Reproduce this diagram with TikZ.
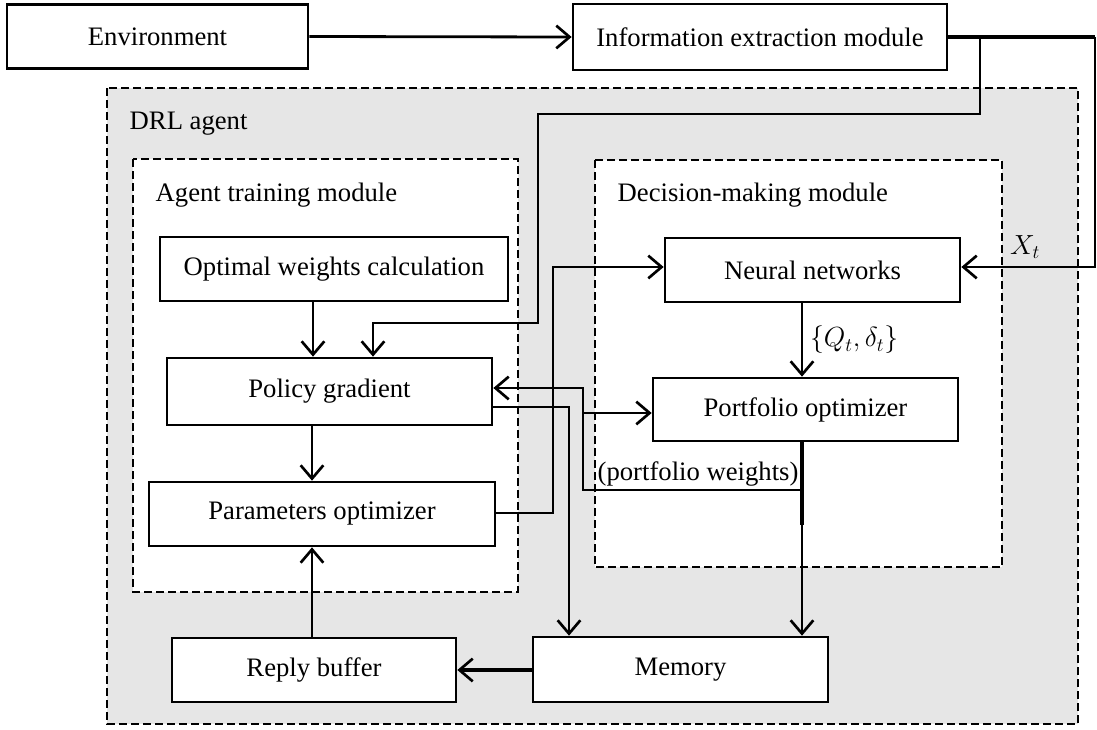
\documentclass[tikz,border=0pt]{standalone}
\usepackage{fontspec}
\setmainfont{Liberation Serif}
\usetikzlibrary{arrows.meta,calc}
\definecolor{agentgray}{RGB}{230,230,230}
\begin{document}
\begin{tikzpicture}[x=0.75pt,y=-0.75pt,
  font=\fontsize{20}{24}\selectfont,
  box/.style={draw,line width=2pt,fill=white,inner sep=0pt},
  modbox/.style={draw,line width=1.8pt,dash pattern=on 6pt off 3pt},
  arr/.style={-{Straight Barb[length=10pt,width=17pt,line width=2pt]}},
  medline/.style={line width=2.1pt},
  boldline/.style={line width=3pt},
  thinline/.style={line width=1.5pt},
]
\useasboundingbox (0,0) rectangle (1097,729);
% modules
\draw[modbox,fill=agentgray] (107,88) rectangle (1078,724);
\draw[modbox,fill=white] (133,159) rectangle (518,592);
\draw[modbox,fill=white] (595,160) rectangle (1002,567);
\node[anchor=west] (drl) at (125,124) {DRL agent};
\node[anchor=west] (atm) at (151,195) {Agent training module};
\node[anchor=west] (dmm) at (613,195) {Decision-making module};
% boxes
\node[box,minimum width=301*0.75pt,minimum height=64*0.75pt] (env) at (157.5,36.5) {Environment};
\node[box,minimum width=374*0.75pt,minimum height=66*0.75pt] (ie) at (760,37) {Information extraction module};
\node[box,minimum width=348*0.75pt,minimum height=64*0.75pt] (owc) at (334,269) {Optimal weights calculation};
\node[box,minimum width=325*0.75pt,minimum height=67*0.75pt] (pg) at (329.5,391.5) {Policy gradient};
\node[box,minimum width=346*0.75pt,minimum height=64*0.75pt] (par) at (322,514) {Parameters optimizer};
\node[box,minimum width=295*0.75pt,minimum height=64*0.75pt] (nn) at (812.5,270) {Neural networks};
\node[box,minimum width=305*0.75pt,minimum height=63*0.75pt] (pfo) at (805.5,409.5) {Portfolio optimizer};
\node[box,minimum width=295*0.75pt,minimum height=65*0.75pt] (mem) at (680.5,669.5) {Memory};
\node[box,minimum width=284*0.75pt,minimum height=64*0.75pt] (rb) at (314,670) {Reply buffer};
% helper coordinates
\coordinate (c1) at (1095,37);
\coordinate (c2) at (1095,267);
\coordinate (b1) at (980,37);
\coordinate (b2) at (980,114);
\coordinate (b3) at (538,114);
\coordinate (b4) at (538,323);
\coordinate (b5) at (373,323);
\coordinate (x312) at (312,0);
\coordinate (x313) at (313,0);
\coordinate (p1) at (553,513);
\coordinate (p2) at (553,267);
\coordinate (w0) at (802,525);
\coordinate (w1) at (802,490);
\coordinate (w2) at (583,490);
\coordinate (w3) at (583,388);
\coordinate (w4) at (583,413);
\coordinate (m1) at (569,407);
\coordinate (y670) at (0,670);
% connectors
\draw[medline,arr] (env.east) -- (ie.west);
\draw[line width=3.5pt] (ie.east) -- (c1);
\draw[medline,arr] (c1) -- (c2) -- (nn.east |- c2);
\draw[medline,arr] (b1) -- (b2) -- (b3) -- (b4) -- (b5) -- (b5 |- pg.north);
\draw[medline,arr] (owc.south -| x313) -- (pg.north -| x313);
\draw[medline,arr] (pg.south -| x312) -- (par.north -| x312);
\draw[medline,arr] (rb.north -| x312) -- (par.south -| x312);
\draw[medline,arr] (par.east |- p1) -- (p1) -- (p2) -- (nn.west |- p2);
\draw[thinline,arr] (nn.south -| w1) -- node[right,xshift=2pt] {$\{Q_t,\delta_t\}$} (pfo.north -| w1);
\draw[boldline] (pfo.south -| w1) -- (w0);
\draw[thinline,arr] (w0) -- (mem.north -| w0);
\draw[medline,arr] (w1) -- (w2) -- (w3) -- (pg.east |- w3);
\draw[medline,arr] (w4) -- (pfo.west |- w4);
\draw[medline,arr] (pg.east |- m1) -- (m1) -- (m1 |- mem.north);
\draw[boldline,arr] (mem.west |- y670) -- (rb.east |- y670);
% labels
\node[anchor=south east,inner sep=1pt] (pw) at (800,488) {(portfolio weights)};
\node (xt) at (1025,247) {$X_t$};
\end{tikzpicture}
\end{document}
